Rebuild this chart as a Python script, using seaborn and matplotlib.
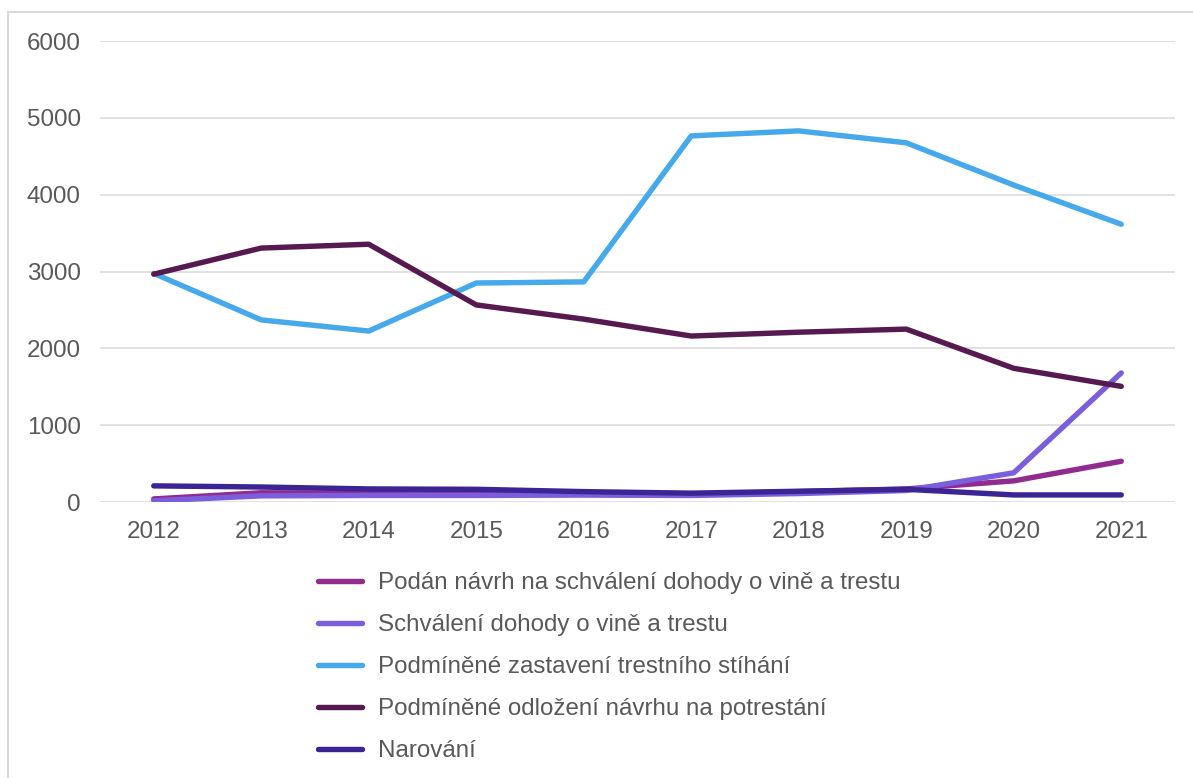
import numpy as np
import pandas as pd
import matplotlib
matplotlib.use("Agg")
import matplotlib.pyplot as plt
import seaborn as sns
from matplotlib.patches import Rectangle
from matplotlib.lines import Line2D

years = ["2012", "2013", "2014", "2015", "2016", "2017", "2018", "2019", "2020", "2021"]

podan = [40, 120, 115, 110, 100, 100, 135, 170, 275, 530]
schvaleni = [15, 80, 85, 85, 90, 85, 110, 150, 380, 1680]
zastaveni = [2975, 2370, 2225, 2850, 2865, 4765, 4830, 4675, 4125, 3615]
odlozeni = [2965, 3305, 3355, 2565, 2380, 2160, 2210, 2250, 1740, 1505]
narovani = [210, 195, 170, 165, 135, 115, 140, 165, 92, 92]

series_names = [
    "Podán návrh na schválení dohody o vině a trestu",
    "Schválení dohody o vině a trestu",
    "Podmíněné zastavení trestního stíhání",
    "Podmíněné odložení návrhu na potrestání",
    "Narování",
]
series_values = [podan, schvaleni, zastaveni, odlozeni, narovani]
colors = ["#912B8E", "#7B5EDC", "#45A9EB", "#561A50", "#3B2595"]

rows = []
for name, vals in zip(series_names, series_values):
    for i, v in enumerate(vals):
        rows.append({"idx": i, "year": years[i], "value": v, "series": name})
df = pd.DataFrame(rows)

sns.set_theme(style="white")
plt.rcParams["font.family"] = ["Liberation Sans", "DejaVu Sans"]
text_color = "#595959"
fs = 17.4
lw = 3.9

fig = plt.figure(figsize=(11.93, 7.78), dpi=100)
ax = fig.add_axes([100 / 1193, 1 - 502 / 778, (1175 - 100) / 1193, (502 - 41) / 778])

sns.lineplot(data=df, x="idx", y="value", hue="series", hue_order=series_names,
             palette=colors, linewidth=lw, ax=ax, legend=False, sort=False)

ax.set_xlim(-0.5, 9.5)
ax.set_ylim(0, 6000)
ax.set_yticks(np.arange(0, 6001, 1000))
ax.set_xticks(range(len(years)))
ax.set_xticklabels(years)
ax.yaxis.grid(True, color="#D9D9D9", linewidth=1.1)
ax.xaxis.grid(False)
ax.set_axisbelow(True)
for s in ax.spines.values():
    s.set_visible(False)
ax.tick_params(axis="both", length=0, labelsize=fs, colors=text_color)
ax.tick_params(axis="y", pad=14)
ax.tick_params(axis="x", pad=14)
ax.set_xlabel("")
ax.set_ylabel("")

handles = [Line2D([0], [0], color=c, linewidth=lw, solid_capstyle="round") for c in colors]
leg = fig.legend(handles, series_names, loc="upper left",
                 bbox_to_anchor=(318 / 1193, 1 - 572 / 778), frameon=False,
                 fontsize=fs, labelcolor=text_color, handlelength=1.8,
                 handletextpad=0.7, labelspacing=0.83, borderpad=0, borderaxespad=0)

fig.patches.append(Rectangle((8 / 1193, -0.1), 1.2, 1 - 12 / 778 + 0.1,
                             transform=fig.transFigure, fill=False,
                             edgecolor="#D9D9D9", linewidth=1.5))

fig.savefig("out.png", dpi=100, facecolor="white")
